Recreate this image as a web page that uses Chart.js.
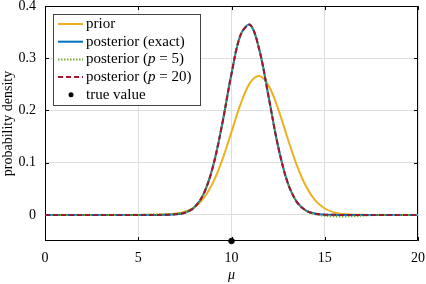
<!DOCTYPE html>
<html>
<head>
<meta charset="utf-8">
<script src="https://cdn.jsdelivr.net/npm/chart.js@4"></script>
<style>
  html, body { margin: 0; padding: 0; background: #fff; }
</style>
</head>
<body>
<canvas id="densityChart" width="426" height="284"></canvas>
<script>
/* ============================================
   DATA
   ============================================ */

const mu = [0, 0.5, 1, 1.5, 2, 2.5, 3, 3.5, 4, 4.5,
            5, 5.5, 6, 6.5, 7, 7.5, 8, 8.5, 9, 9.5,
            10, 10.5, 11, 11.5, 12, 12.5, 13, 13.5, 14, 14.5,
            15, 15.5, 16, 16.5, 17, 17.5, 18, 18.5, 19, 19.5, 20];

const prior = [0, 0, 0, 0, 0, 0, 0, 0, 0, 0,
               0, 0.0001, 0.0002, 0.0007, 0.0021, 0.0059, 0.0145, 0.0317, 0.0613, 0.105,
               0.159, 0.2134, 0.2532, 0.266, 0.247, 0.2031, 0.1478, 0.0952, 0.0543, 0.0273,
               0.0122, 0.0048, 0.0017, 0.0005, 0.0001, 0, 0, 0, 0, 0, 0];

const posteriorExact = [0, 0, 0, 0, 0, 0, 0, 0, 0, 0,
                        0, 0, 0, 0.0002, 0.001, 0.0042, 0.0142, 0.0398, 0.0917, 0.1736,
                        0.2703, 0.3459, 0.3639, 0.3149, 0.224, 0.131, 0.063, 0.0249, 0.0081, 0.0022,
                        0.0005, 0.0001, 0, 0, 0, 0, 0, 0, 0, 0, 0];

const posteriorP5 = [0, 0, 0, 0, 0, 0, 0, 0, 0, 0,
                     0.0002, 0.0005, 0.001, 0.0016, 0.0022, 0.0048, 0.0142, 0.0398, 0.0917, 0.1736,
                     0.2703, 0.3459, 0.3639, 0.3149, 0.224, 0.131, 0.063, 0.0249, 0.0081, 0.0012,
                     -0.0015, -0.0028, -0.003, -0.0025, -0.0015, -0.0005, 0, 0, 0, 0, 0];

const posteriorP20 = [0, 0, 0, 0, 0, 0, 0, 0, 0, 0,
                      0, 0, 0, 0.0002, 0.001, 0.0042, 0.0142, 0.0398, 0.0917, 0.1736,
                      0.2703, 0.3459, 0.3639, 0.3149, 0.224, 0.131, 0.063, 0.0249, 0.0081, 0.0022,
                      0.0005, 0.0001, 0, 0, 0, 0, 0, 0, 0, 0, 0];

const trueValue = [10];
const trueValueY = [-0.05];

const xTicks = [0, 5, 10, 15, 20];
const yTicks = [0, 0.1, 0.2, 0.3, 0.4];

const colors = {
    prior: "#EDB120",
    exact: "#0072BD",
    p5: "#77AC30",
    p20: "#A2142F"
};

const FONT = "'Liberation Serif', 'DejaVu Serif', serif";

function toPoints(ys) {
    return mu.map((x, i) => ({ x: x, y: ys[i] }));
}

/* ============================================
   FRAME (box with inward ticks) + LEGEND
   ============================================ */

const frameBox = {
    id: "frameBox",
    beforeDatasetsDraw(chart) {
        const { ctx, chartArea: a, scales } = chart;
        const t = 4;
        ctx.save();
        ctx.strokeStyle = "#000";
        ctx.lineWidth = 1;
        ctx.beginPath();
        ctx.rect(a.left + 0.5, a.top + 0.5, a.right - a.left - 1, a.bottom - a.top - 1);
        xTicks.forEach(v => {
            const px = Math.round(scales.x.getPixelForValue(v)) + 0.5;
            ctx.moveTo(px, a.top); ctx.lineTo(px, a.top + t);
            ctx.moveTo(px, a.bottom); ctx.lineTo(px, a.bottom - t);
        });
        yTicks.forEach(v => {
            const py = Math.round(scales.y.getPixelForValue(v)) + 0.5;
            ctx.moveTo(a.left, py); ctx.lineTo(a.left + t, py);
            ctx.moveTo(a.right, py); ctx.lineTo(a.right - t, py);
        });
        ctx.stroke();
        ctx.restore();
    },
    afterDraw(chart) {
        const ctx = chart.ctx;
        const box = { x: 53.5, y: 14.5, w: 147, h: 91 };
        const rowH = 17.7;
        const row0 = 24;
        ctx.save();
        ctx.fillStyle = "#fff";
        ctx.fillRect(box.x, box.y, box.w, box.h);
        ctx.strokeStyle = "#444";
        ctx.lineWidth = 1;
        ctx.strokeRect(box.x, box.y, box.w, box.h);

        const items = [
            { parts: [["prior", false]], color: colors.prior, dash: [] },
            { parts: [["posterior (exact)", false]], color: colors.exact, dash: [] },
            { parts: [["posterior (", false], ["p", true], [" = 5)", false]], color: colors.p5, dash: [1.5, 1.5] },
            { parts: [["posterior (", false], ["p", true], [" = 20)", false]], color: colors.p20, dash: [5, 3] },
            { parts: [["true value", false]], marker: true }
        ];

        items.forEach((it, i) => {
            const y = row0 + i * rowH;
            if (it.marker) {
                ctx.fillStyle = "#000";
                ctx.beginPath();
                ctx.arc(71, y, 2.5, 0, Math.PI * 2);
                ctx.fill();
            } else {
                ctx.strokeStyle = it.color;
                ctx.lineWidth = 2;
                ctx.setLineDash(it.dash);
                ctx.beginPath();
                ctx.moveTo(58, y);
                ctx.lineTo(83, y);
                ctx.stroke();
                ctx.setLineDash([]);
            }
            let x = 86;
            ctx.fillStyle = "#000";
            ctx.textBaseline = "middle";
            ctx.textAlign = "left";
            it.parts.forEach(([txt, ital]) => {
                ctx.font = (ital ? "italic " : "") + "15px " + FONT;
                ctx.fillText(txt, x, y);
                x += ctx.measureText(txt).width;
            });
        });
        ctx.restore();
    }
};

/* ============================================
   CHART
   ============================================ */

document.addEventListener("DOMContentLoaded", function () {

    const ctx = document.getElementById("densityChart");

    new Chart(ctx, {
        type: "line",
        data: {
            datasets: [
                {
                    label: "posterior (p = 20)",
                    data: toPoints(posteriorP20),
                    borderColor: colors.p20,
                    borderWidth: 2,
                    borderDash: [5, 3],
                    order: 1
                },
                {
                    label: "posterior (p = 5)",
                    data: toPoints(posteriorP5),
                    borderColor: colors.p5,
                    borderWidth: 2,
                    borderDash: [1.5, 1.5],
                    order: 2
                },
                {
                    label: "posterior (exact)",
                    data: toPoints(posteriorExact),
                    borderColor: colors.exact,
                    borderWidth: 2,
                    order: 3
                },
                {
                    label: "prior",
                    data: toPoints(prior),
                    borderColor: colors.prior,
                    borderWidth: 2,
                    order: 4
                },
                {
                    type: "scatter",
                    label: "true value",
                    data: trueValue.map((x, i) => ({ x: x, y: trueValueY[i] })),
                    backgroundColor: "#000",
                    borderColor: "#000",
                    pointRadius: 2.8,
                    clip: false,
                    order: 0
                }
            ]
        },
        options: {
            responsive: false,
            animation: false,
            devicePixelRatio: 1,
            layout: { padding: { top: 6, right: 8, left: 0, bottom: 0 } },
            elements: {
                point: { radius: 0 },
                line: { tension: 0.35, fill: false }
            },
            plugins: {
                legend: { display: false },
                tooltip: { enabled: false }
            },
            scales: {
                x: {
                    type: "linear",
                    min: 0,
                    max: 20,
                    afterBuildTicks: s => { s.ticks = xTicks.map(v => ({ value: v })); },
                    afterFit: s => { s.height = 43; s.paddingLeft = 0; s.paddingRight = 0; },
                    grid: { color: "#dedede", drawTicks: false },
                    border: { display: false },
                    ticks: {
                        color: "#000",
                        padding: 9,
                        maxRotation: 0,
                        font: { family: FONT, size: 14 }
                    },
                    title: {
                        display: true,
                        text: "μ",
                        color: "#000",
                        padding: 0,
                        font: { family: FONT, size: 14, style: "italic" }
                    }
                },
                y: {
                    min: -0.05,
                    max: 0.4,
                    afterBuildTicks: s => { s.ticks = yTicks.map(v => ({ value: v })); },
                    afterFit: s => { s.width = 45; s.paddingTop = 0; s.paddingBottom = 0; },
                    grid: { color: "#dedede", drawTicks: false },
                    border: { display: false },
                    ticks: {
                        color: "#000",
                        padding: 9,
                        font: { family: FONT, size: 14 }
                    },
                    title: {
                        display: true,
                        text: "probability density",
                        color: "#000",
                        padding: 0,
                        font: { family: FONT, size: 14 }
                    }
                }
            }
        },
        plugins: [frameBox]
    });
});
</script>
</body>
</html>
